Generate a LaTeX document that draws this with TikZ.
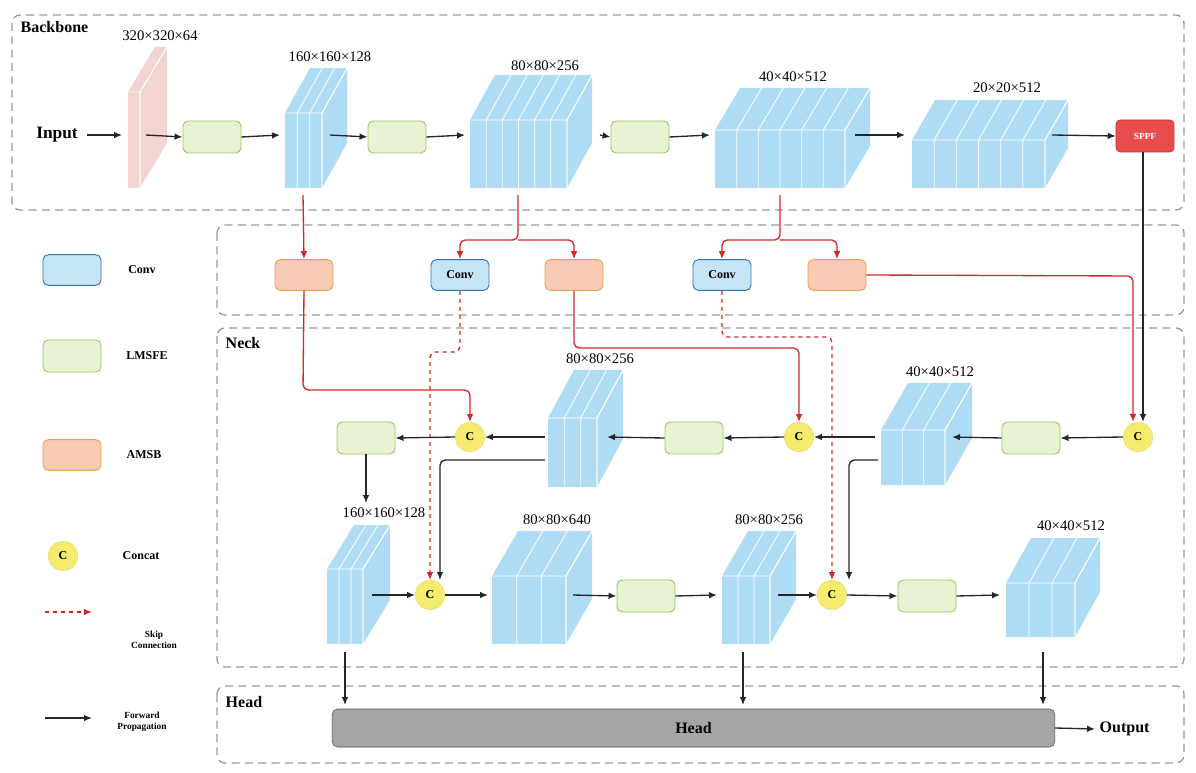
\documentclass[tikz,border=0pt]{standalone}
\usepackage{fontspec}
\setmainfont{Liberation Serif}
\usetikzlibrary{arrows.meta}
\definecolor{blk}{HTML}{AEDCF4}
\definecolor{pinkb}{HTML}{F2D4D0}
\definecolor{lmf}{HTML}{E8F3D3}
\definecolor{lmd}{HTML}{9BC862}
\definecolor{amf}{HTML}{F8CBB4}
\definecolor{amd}{HTML}{F0A050}
\definecolor{cvf}{HTML}{C5E5F5}
\definecolor{cvd}{HTML}{2E75B6}
\definecolor{ccf}{HTML}{F5EB6E}
\definecolor{ccd}{HTML}{E5DC70}
\definecolor{spf}{HTML}{E84C4C}
\definecolor{spd}{HTML}{C03030}
\definecolor{redl}{HTML}{D62728}
\definecolor{regd}{HTML}{999999}
\newcommand{\blk}[8]{% x0 x1 ytop ybot dx dy n color
  \fill[#8] (#1,#4) -- (#2,#4) -- (#2+#5,#4-#6) -- (#2+#5,#3-#6) -- (#1+#5,#3-#6) -- (#1,#3) -- cycle;
  \draw[white,line width=0.6pt] (#1,#3) -- (#2,#3) -- (#2,#4) (#2,#3) -- (#2+#5,#3-#6);
  \foreach \i in {1,...,#7}{
    \pgfmathsetmacro\xx{#1+\i*(#2-#1)/#7}
    \draw[white,line width=0.6pt] (\xx,#4) -- (\xx,#3) -- (\xx+#5,#3-#6);}
}
\tikzset{
  x=0.75pt,y=-0.75pt,
  region/.style={draw=regd,dashed,line width=1pt,rounded corners=6pt,dash pattern=on 6pt off 4pt},
  lm/.style={draw=lmd,fill=lmf,rounded corners=4pt,minimum width=43.5pt,minimum height=24pt,line width=0.7pt},
  am/.style={draw=amd,fill=amf,rounded corners=4pt,minimum width=43.5pt,minimum height=23pt,line width=0.7pt},
  cv/.style={draw=cvd,fill=cvf,rounded corners=4pt,minimum width=43.5pt,minimum height=23pt,line width=0.7pt,font=\bfseries\small},
  cc/.style={circle,draw=ccd,fill=ccf,minimum size=22pt,inner sep=0pt,font=\bfseries\small},
  fw/.style={-{Latex[length=6pt,width=5pt]},line width=1pt,black!85},
  rd/.style={-{Latex[length=6pt,width=5pt]},line width=1pt,redl,rounded corners=4pt},
  sk/.style={-{Latex[length=6pt,width=5pt]},line width=1pt,redl,dashed,rounded corners=4pt},
  dim/.style={font=\fontsize{11}{12}\selectfont},
  leg/.style={font=\bfseries\small,align=center},
}
\begin{document}
\begin{tikzpicture}
\useasboundingbox (0,0) rectangle (1196,773);
% regions
\draw[region] (12,15) rectangle (1184,210);
\draw[region] (217,225) rectangle (1184,315);
\draw[region] (217,328) rectangle (1184,667);
\draw[region] (217,686) rectangle (1184,763);
\node[font=\bfseries\fontsize{12}{12}\selectfont,anchor=west] at (16,27) {Backbone};
\node[font=\bfseries\fontsize{12}{12}\selectfont,anchor=west] at (221,343) {Neck};
\node[font=\bfseries\fontsize{12}{12}\selectfont,anchor=west] at (221,702) {Head};
% backbone
\node[font=\bfseries\fontsize{13}{13}\selectfont] (in) at (57,135) {Input};
\blk{128}{140}{92}{188}{27}{45}{1}{pinkb}
\blk{285}{322}{113}{188}{25}{45}{3}{blk}
\blk{470}{567}{120}{188}{25}{45}{6}{blk}
\blk{715}{845}{130}{188}{25}{42}{6}{blk}
\blk{912}{1045}{140}{188}{23}{40}{6}{blk}
\node[dim] at (160,36) {320×320×64};
\node[dim] at (330,57) {160×160×128};
\node[dim] at (545,66) {80×80×256};
\node[dim] at (793,77) {40×40×512};
\node[dim] at (1007,88) {20×20×512};
\node[lm] (l1) at (212,137) {};
\node[lm] (l2) at (397,137) {};
\node[lm] (l3) at (640,137) {};
\node[draw=spd,fill=spf,rounded corners=3pt,minimum width=43.5pt,minimum height=24pt,font=\bfseries\scriptsize,text=white] (sppf) at (1145,136) {SPPF};
\coordinate (b1) at (134,135);
\coordinate (b2) at (303,135);
\coordinate (b3) at (518,135);
\coordinate (b4) at (780,135);
\coordinate (b5) at (978,135);
\draw[fw] (in.east) ++(5,0) -- (122,135);
\draw[fw] (146,135) -- (l1.west);
\draw[fw] (l1.east) -- (280,135);
\draw[fw] (330,135) -- (l2.west);
\draw[fw] (l2.east) -- (465,135);
\draw[fw] (600,135) -- (l3.west);
\draw[fw] (l3.east) -- (710,135);
\draw[fw] (855,135) -- (905,135);
\draw[fw] (1052,135) -- (sppf.west);
% second row
\node[am] (a1) at (304,275) {};
\node[cv] (c1) at (460,275) {Conv};
\node[am] (a2) at (574,275) {};
\node[cv] (c2) at (722,275) {Conv};
\node[am] (a3) at (837,275) {};
\draw[rd] (303,195) -- (a1.north);
\draw[rd] (518,195) -- (518,240) -| (c1.north);
\draw[rd] (518,240) -| (a2.north);
\draw[rd] (780,195) -- (780,240) -| (c2.north);
\draw[rd] (780,240) -| (a3.north);
% neck blocks
\blk{548}{597}{418}{487}{26}{48}{3}{blk}
\blk{881}{945}{430}{485}{27}{47}{3}{blk}
\blk{327}{363}{569}{644}{27}{44}{3}{blk}
\blk{492}{566}{576}{644}{26}{45}{3}{blk}
\blk{722}{770}{576}{644}{26}{45}{3}{blk}
\blk{1006}{1075}{583}{637}{25}{45}{3}{blk}
\node[dim] at (600,359) {80×80×256};
\node[dim] at (940,372) {40×40×512};
\node[dim] at (384,513) {160×160×128};
\node[dim] at (557,520) {80×80×640};
\node[dim] at (769,520) {80×80×256};
\node[dim] at (1071,526) {40×40×512};
\node[cc] (k1) at (470,437) {C};
\node[cc] (k2) at (799,437) {C};
\node[cc] (k3) at (1138,437) {C};
\node[cc] (k4) at (430,595) {C};
\node[cc] (k5) at (832,595) {C};
\node[lm] (n1) at (366,438) {};
\node[lm] (n2) at (694,438) {};
\node[lm] (n3) at (1031,438) {};
\node[lm] (n4) at (646,596) {};
\node[lm] (n5) at (927,596) {};
% red connections to concat
\draw[rd] (a3.east) -- (1133,276) -- (1133,422);
\draw[fw] (sppf.south -| 1143,0) -- (1143,422);
\draw[rd] (a1.south) -- (303,390) -| (k1.north);
\draw[rd] (a2.south) -- (574,348) -| (k2.north);
\draw[sk] (c1.south) -- (460,352) -- (430,352) -- (k4.north);
\draw[sk] (c2.south) -- (722,337) -- (832,337) -- (k5.north);
% neck forward
\draw[fw] (k3.west) -- (n3.east);
\draw[fw] (n3.west) -- (952,437);
\draw[fw] (875,437) -- (k2.east);
\draw[fw] (k2.west) -- (n2.east);
\draw[fw] (n2.west) -- (607,437);
\draw[fw] (545,437) -- (k1.east);
\draw[fw] (k1.west) -- (n1.east);
\draw[fw] (n1.south) -- (366,503);
\draw[fw,rounded corners=4pt] (545,460) -- (440,460) -- (440,580);
\draw[fw,rounded corners=4pt] (878,460) -- (849,460) -- (849,580);
\draw[fw] (372,595) -- (k4.west);
\draw[fw] (k4.east) -- (488,595);
\draw[fw] (573,595) -- (n4.west);
\draw[fw] (n4.east) -- (717,595);
\draw[fw] (778,595) -- (k5.west);
\draw[fw] (k5.east) -- (n5.west);
\draw[fw] (n5.east) -- (1000,595);
% head
\node[draw=black!70,fill=black!35,rounded corners=4pt,minimum width=542pt,minimum height=28.5pt,font=\bfseries\fontsize{12}{12}\selectfont] (head) at (693.5,728) {Head};
\draw[fw] (345,652) -- (345,705);
\draw[fw] (743,652) -- (743,705);
\draw[fw] (1043,652) -- (1043,705);
\node[font=\bfseries\fontsize{12}{12}\selectfont,anchor=west] (out) at (1095,729) {Output};
\draw[fw] (head.east) -- (out.west);
% legend
\node[cv] (lc) at (72,270) {};
\node[leg] at (142,270) {Conv};
\node[lm] (ll) at (72,356) {};
\node[leg] at (147,356) {LMSFE};
\node[am] (la) at (72,455) {};
\node[leg] at (144,455) {AMSB};
\node[cc] (lk) at (63,556) {C};
\node[leg] at (141,556) {Concat};
\coordinate (s1) at (45,612); \coordinate (s2) at (92,612);
\draw[sk] (s1) -- (s2);
\node[leg,font=\bfseries\scriptsize] at (154,640) {Skip\\Connection};
\coordinate (f1) at (45,718); \coordinate (f2) at (92,718);
\draw[fw] (f1) -- (f2);
\node[leg,font=\bfseries\scriptsize] at (142,722) {Forward\\Propagation};
\end{tikzpicture}
\end{document}
